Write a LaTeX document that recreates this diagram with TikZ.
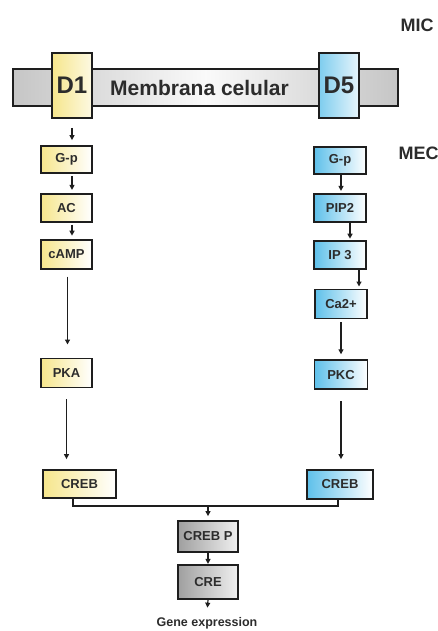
\documentclass[tikz,border=0pt]{standalone}
\usepackage{fontspec}
\setmainfont{Liberation Sans}
\usetikzlibrary{arrows.meta,positioning}
\definecolor{ylw}{HTML}{F6E68C}
\definecolor{blu}{HTML}{5EC0EA}
\definecolor{txt}{HTML}{2C2C2C}
\definecolor{edge}{HTML}{1E1E1E}

\begin{document}
\begin{tikzpicture}[
            x=1pt, y=-1pt,
            font=\bfseries\fontsize{13}{15}\selectfont, text=txt,
            node distance=18pt,
            box/.style={draw=edge, line width=1.8pt, inner sep=0pt, minimum width=51pt, minimum height=28pt, align=center},
            dbox/.style={box, left color=ylw, right color=white},
            pbox/.style={box, left color=blu, right color=white},
            gbox/.style={box, left color=gray!75, right color=gray!12, minimum width=60pt},
            rcpt/.style={box, minimum width=40pt, minimum height=65pt, font=\bfseries\fontsize{24}{26}\selectfont},
            arrow/.style={-{Triangle[length=5pt,width=5pt]}, line width=1.2pt, draw=edge},
            link/.style={line width=1.4pt, draw=edge}
        ]
            \useasboundingbox (0,0) rectangle (438,631);

            % membrane with both receptors
            \node[draw=edge, line width=1.8pt, minimum width=385pt, minimum height=37pt, inner sep=0pt,
                  left color=gray!45, right color=gray!45, middle color=gray!4,
                  font=\bfseries\fontsize{21}{23}\selectfont] (memb) at (205.5,87.5) {Membrana celular\hspace*{12pt}};
            \node[rcpt, left color=ylw, right color=ylw!25] (D1) at (72,85.5) {D1};
            \node[rcpt, left color=blu!80, right color=blu!15] (D5) at (339,85.5) {D5};
            \node[anchor=west, font=\bfseries\fontsize{18}{20}\selectfont] (mic) at (397,25) {MIC};
            \node[anchor=west, font=\bfseries\fontsize{18}{20}\selectfont] (mec) at (395,153) {MEC};

            % D1 pathway
            \node[dbox, minimum height=27pt] (gp1) at (66.5,159.5) {G-p};
            \node[dbox, below=19pt of gp1] (ac1) {AC};
            \node[dbox, below=16pt of ac1, minimum height=29pt] (camp) {cAMP};
            \node[dbox, below=88pt of camp, minimum height=29pt] (pka) {PKA};
            \node[dbox, minimum width=73pt] (creb1) at (79.5,484) {CREB};

            % D5 pathway
            \node[pbox, minimum width=52pt, minimum height=27pt] (gp2) at (340,160.5) {G-p};
            \node[pbox, minimum width=52pt, below=18pt of gp2] (pip2) {PIP2};
            \node[pbox, minimum width=52pt, below=17pt of pip2] (ip3) {IP 3};
            \node[pbox, minimum width=52pt, minimum height=29pt, below=19pt of ip3, xshift=1pt] (ca) {Ca2+};
            \node[pbox, minimum width=53pt, minimum height=29pt, below=40pt of ca] (pkc) {PKC};
            \node[pbox, minimum width=66pt, minimum height=29pt] (creb2) at (340,484.5) {CREB};

            % nucleus
            \node[gbox, minimum height=31pt] (crebp) at (208,536.5) {CREB P};
            \node[gbox, minimum height=34pt, below=11pt of crebp] (cre) {CRE};
            \node[font=\bfseries\fontsize{12.5}{14}\selectfont] (gene) at (207,623) {Gene expression};

            \draw[arrow, shorten <=9pt, shorten >=5pt] (D1.south) -- (D1.south |- gp1.north);
            \draw[arrow, shorten <=2pt, shorten >=3pt] (D1.south |- gp1.south) -- (D1.south |- ac1.north);
            \draw[arrow, shorten <=2pt, shorten >=3pt] (D1.south |- ac1.south) -- (D1.south |- camp.north);
            \draw[arrow, shorten <=7pt, shorten >=13pt] ([xshift=1pt]camp.south) -- ([xshift=1pt]camp.south |- pka.north);
            \draw[arrow, shorten <=11pt, shorten >=10pt] (pka.south) -- (pka.south |- creb1.north);

            \draw[arrow, shorten >=2pt] ([xshift=1pt]gp2.south) -- ([xshift=1pt]gp2.south |- pip2.north);
            \draw[arrow, shorten >=1pt] ([xshift=10pt]pip2.south) -- ([xshift=10pt]pip2.south |- ip3.north);
            \draw[arrow, shorten >=2pt] ([xshift=19pt]ip3.south) -- ([xshift=19pt]ip3.south |- ca.north);
            \draw[arrow, shorten <=3pt, shorten >=5pt] (ca.south) -- (ca.south |- pkc.north);
            \draw[arrow, shorten <=11pt, shorten >=10pt] (pkc.south) -- (pkc.south |- creb2.north);

            \coordinate (join) at (crebp.north |- 0,506);
            \draw[link] ([xshift=-6.5pt]creb1.south) |- (join) -| ([xshift=-2pt]creb2.south);
            \draw[arrow, shorten >=4pt] (join) -- (crebp.north);
            \draw[arrow] (crebp.south) -- (cre.north);
            \draw[arrow, shorten >=6pt] (cre.south) -- (gene.north);
        \end{tikzpicture}
\end{document}
